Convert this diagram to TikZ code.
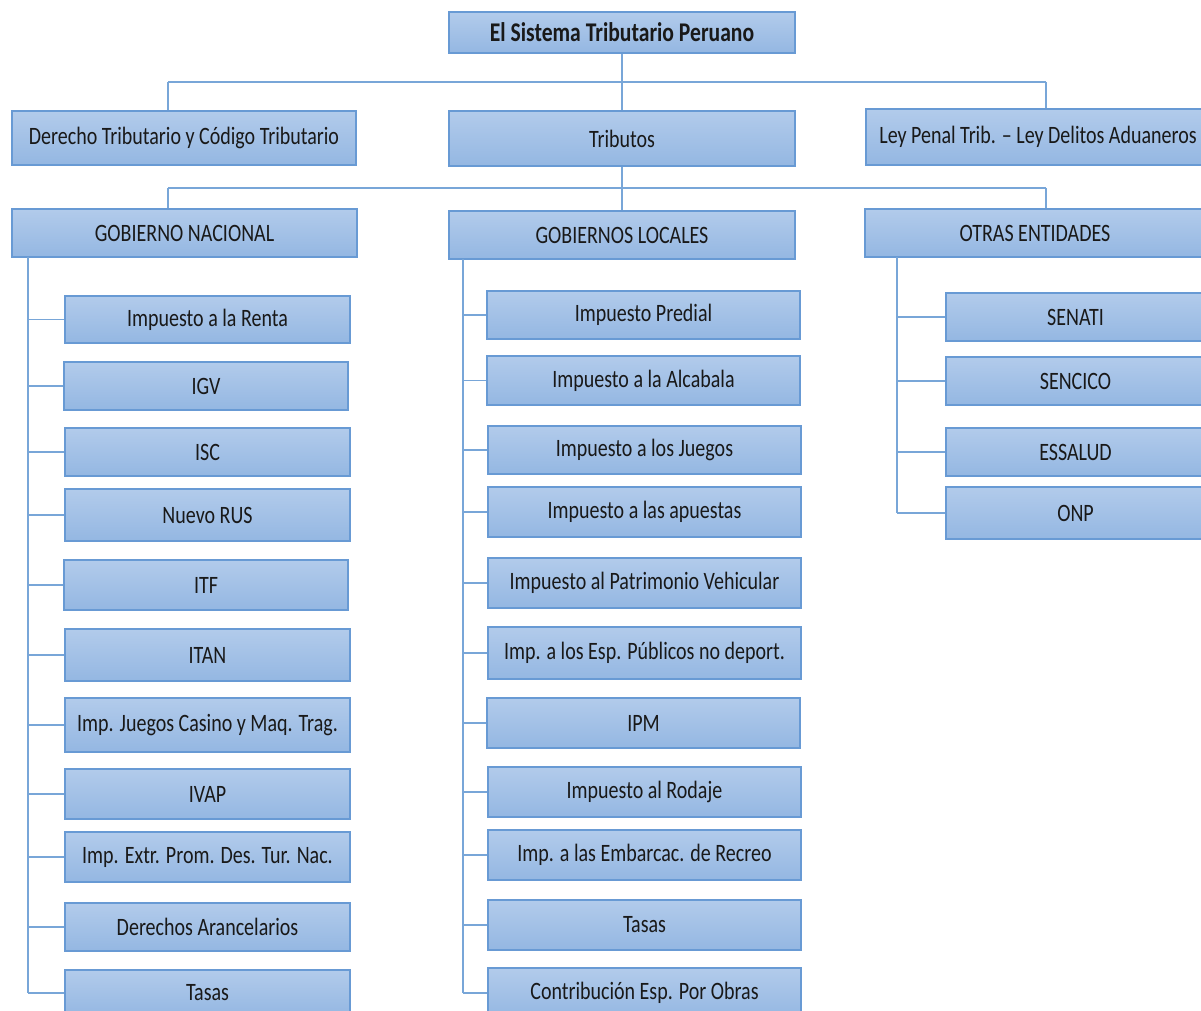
\documentclass[tikz,border=0pt]{standalone}
\usepackage{fontspec}
\setmainfont{Carlito}[FakeStretch=0.8]
\definecolor{boxtop}{RGB}{178,203,235}
\definecolor{boxbot}{RGB}{148,183,226}
\definecolor{boxline}{RGB}{104,154,212}
\definecolor{connline}{RGB}{120,166,216}
\definecolor{txt}{RGB}{25,25,25}
\tikzset{
  box/.style={draw=boxline, line width=1.4pt, top color=boxtop, bottom color=boxbot,
    text=txt, inner sep=0pt, font=\fontsize{25}{28}\selectfont, anchor=center},
  conn/.style={draw=connline, line width=1.8pt}
}
\newcommand{\bx}[6]{%
  \node[box, minimum width={#4-#2}, minimum height={#5-#3}] (#1) at ({(#2+#4)/2},{(#3+#5)/2}) {#6};}
\begin{document}
\begin{tikzpicture}[x=1pt,y=-1pt]
\useasboundingbox (0,0) rectangle (1201,1011);
\clip (0,0) rectangle (1201,1011);
% level 0 and 1
\bx{title}{449}{12}{795}{53}{\fontsize{27}{30}\selectfont\bfseries El Sistema Tributario Peruano}
\bx{der}{12}{111}{356}{165}{Derecho Tributario y Código Tributario}
\bx{trib}{449}{111}{795}{166}{Tributos}
\bx{ley}{866}{109}{1226}{165}{\hspace*{-8pt}Ley Penal Trib. – Ley Delitos Aduaneros\hspace*{8pt}}
% level 2
\bx{gn}{12}{209}{357}{257}{GOBIERNO NACIONAL}
\bx{gl}{449}{211}{795}{259}{GOBIERNOS LOCALES}
\bx{oe}{865}{209}{1227}{257}{\hspace*{-11pt}OTRAS ENTIDADES\hspace*{11pt}}
% connectors top
\coordinate (h1) at (621,82);
\coordinate (h1l) at (168,82);
\coordinate (h1r) at (1046,82);
\draw[conn] (title.south) -- (trib.north);
\draw[conn] (h1l) -- (h1r);
\draw[conn] (h1l) -- (h1l |- der.north);
\draw[conn] (h1r) -- (h1r |- ley.north);
\coordinate (h2l) at (168,188);
\coordinate (h2r) at (1046,188);
\draw[conn] (h2l) -- (h2r);
\draw[conn] (trib.south) -- (gl.north);
\draw[conn] (h2l) -- (h2l |- gn.north);
\draw[conn] (h2r) -- (h2r |- oe.north);
% Gobierno Nacional children
\bx{n1}{65}{296}{350}{343}{Impuesto a la Renta}
\bx{n2}{64}{362}{348}{410}{IGV}
\bx{n3}{65}{428}{350}{476}{ISC}
\bx{n4}{65}{489}{350}{541}{Nuevo RUS}
\bx{n5}{64}{560}{348}{610}{ITF}
\bx{n6}{65}{629}{350}{681}{ITAN}
\bx{n7}{65}{698}{350}{752}{Imp. Juegos Casino y Maq. Trag.}
\bx{n8}{65}{769}{350}{819}{IVAP}
\bx{n9}{65}{832}{350}{882}{Imp. Extr. Prom. Des. Tur. Nac.}
\bx{n10}{65}{903}{350}{951}{Derechos Arancelarios}
\bx{n11}{65}{970}{350}{1016}{Tasas}
\coordinate (gnv) at (28,257);
\draw[conn] (gnv) -- (28,993);
\foreach \i in {1,...,10} {\draw[conn] (n\i.west) -- (n\i.west -| gnv);}
\draw[conn] (gnv |- 0,993) -- (n11.west |- 0,993);
% Gobiernos Locales children
\bx{l1}{487}{291}{800}{339}{Impuesto Predial}
\bx{l2}{487}{356}{800}{405}{Impuesto a la Alcabala}
\bx{l3}{488}{426}{801}{474}{Impuesto a los Juegos}
\bx{l4}{488}{487}{801}{537}{Impuesto a las apuestas}
\bx{l5}{488}{558}{801}{608}{Impuesto al Patrimonio Vehicular}
\bx{l6}{488}{627}{801}{679}{Imp. a los Esp. Públicos no deport.}
\bx{l7}{487}{698}{800}{748}{IPM}
\bx{l8}{488}{767}{801}{817}{Impuesto al Rodaje}
\bx{l9}{488}{830}{801}{880}{Imp. a las Embarcac. de Recreo}
\bx{l10}{488}{900}{801}{950}{Tasas}
\bx{l11}{488}{968}{801}{1018}{Contribución Esp. Por Obras}
\coordinate (glv) at (463,259);
\draw[conn] (glv) -- (463,993);
\foreach \i in {1,...,10} {\draw[conn] (l\i.west) -- (l\i.west -| glv);}
\draw[conn] (glv |- 0,993) -- (l11.west |- 0,993);
% Otras entidades children
\bx{o1}{946}{293}{1205}{341}{SENATI}
\bx{o2}{946}{357}{1205}{405}{SENCICO}
\bx{o3}{946}{428}{1205}{476}{ESSALUD}
\bx{o4}{946}{487}{1205}{539}{ONP}
\coordinate (oev) at (897,257);
\draw[conn] (oev) -- (oev |- o4.west);
\foreach \i in {1,...,4} {\draw[conn] (o\i.west) -- (o\i.west -| oev);}
\end{tikzpicture}
\end{document}
